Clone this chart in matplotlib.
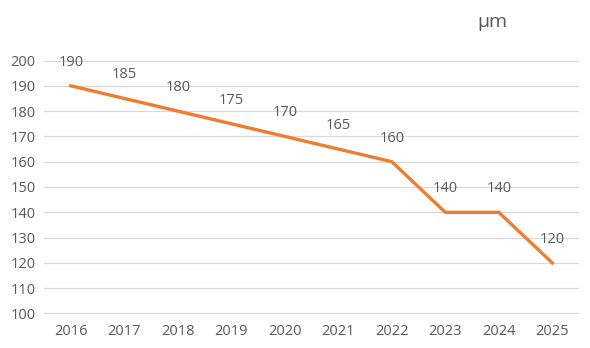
import matplotlib
matplotlib.use("Agg")
import matplotlib.pyplot as plt

# Datos
years = ["2016", "2017", "2018", "2019", "2020", "2021", "2022", "2023", "2024", "2025"]
values = [190, 185, 180, 175, 170, 165, 160, 140, 140, 120]
yticks = [100, 110, 120, 130, 140, 150, 160, 170, 180, 190, 200]
unit = "µm"

plt.rcParams['font.family'] = ['Open Sans', 'DejaVu Sans']
gray = "#595959"

fig = plt.figure(figsize=(5.9, 3.48), dpi=100)
ax = fig.add_axes([0.0746, 0.0977, 0.9068, 0.7299])

x = list(range(len(years)))
ax.plot(x, values, color="#ED7D31", linewidth=2.4, solid_joinstyle="miter", zorder=3)

# Etiquetas de datos
for xi, v in zip(x, values):
    ax.annotate(str(v), (xi, v), xytext=(0, 17), textcoords="offset points",
                ha="center", va="center", fontsize=10.5, color=gray)

ax.set_xlim(-0.5, len(years) - 0.5)
ax.set_ylim(99.8, 200.2)
ax.set_yticks(yticks)
ax.set_xticks(x)
ax.set_xticklabels(years)
ax.tick_params(length=0, labelsize=10.5, colors=gray)
ax.tick_params(axis="x", pad=7)
ax.tick_params(axis="y", pad=6)
ax.grid(axis="y", color="#D9D9D9", linewidth=0.9)
ax.set_axisbelow(True)
for s in ax.spines.values():
    s.set_visible(False)

fig.text(492 / 590, 1 - 22 / 348, unit, ha="center", va="center", fontsize=14, color=gray)

fig.savefig("out.png", dpi=100)
